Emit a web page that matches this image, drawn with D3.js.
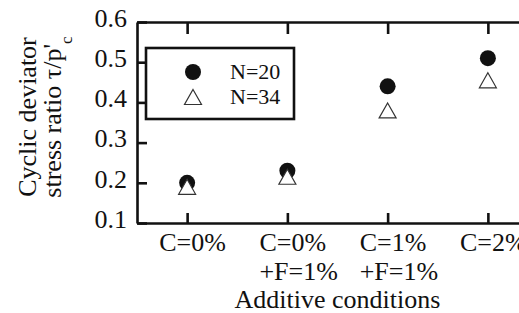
<!DOCTYPE html>
<meta charset="utf-8">
<head>
    <script src="https://cdn.jsdelivr.net/npm/d3@7"></script>
</head>
<style>
    body { margin: 0; background: #fff; }
    svg { display: block; font-family: "Liberation Serif", "Times New Roman", serif; }
</style>
<body>
<script>
    'use strict';

    const categories = ["C=0%", "C=0%+F=1%", "C=1%+F=1%", "C=2%"];
    const categoryLines = [["C=0%"], ["C=0%", "+F=1%"], ["C=1%", "+F=1%"], ["C=2%"]];
    const n20 = [0.20, 0.23, 0.44, 0.51];
    const n34 = [0.19, 0.215, 0.38, 0.455];
    const yTicks = [0.1, 0.2, 0.3, 0.4, 0.5, 0.6];

    const W = 519, H = 313;
    const plotLeft = 137, plotRight = 538, plotTop = 22, plotBottom = 223;
    const serif = "Liberation Serif";

    const svg = d3.select("body").append("svg")
        .attr("width", W).attr("height", H);

    const x = d3.scalePoint().domain(categories).range([plotLeft, plotRight]).padding(0.5);
    const y = d3.scaleLinear().domain([0.1, 0.6]).range([plotBottom, plotTop]);

    // frame / axes
    const yAxis = svg.append("g")
        .attr("transform", `translate(${plotLeft},0)`)
        .call(d3.axisLeft(y).tickValues(yTicks).tickFormat(d3.format(".1f"))
            .tickSizeInner(-10).tickSizeOuter(0).tickPadding(10));

    svg.append("g")
        .attr("transform", `translate(0,${plotBottom})`)
        .call(d3.axisBottom(x).tickSizeInner(-10).tickSizeOuter(0).tickFormat(""));

    svg.append("g")
        .attr("transform", `translate(0,${plotTop})`)
        .call(d3.axisTop(x).tickSizeInner(-12).tickSizeOuter(0).tickFormat(""));

    svg.selectAll(".domain, .tick line")
        .attr("stroke", "#111").attr("stroke-width", 2.6);

    yAxis.selectAll("text")
        .attr("fill", "#111")
        .attr("font-size", 26)
        .attr("font-family", serif)
        .attr("y", -4);

    // category labels (left-aligned blocks under each tick)
    const lab = svg.append("g");
    categoryLines.forEach((lines, i) => {
        const t = lab.append("text")
            .attr("fill", "#111")
            .attr("font-family", serif)
            .attr("font-size", 26)
            .attr("x", x(categories[i]) - 28)
            .attr("y", 251);
        lines.forEach((s, j) => {
            t.append("tspan")
                .attr("x", x(categories[i]) - 28)
                .attr("dy", j === 0 ? 0 : 29)
                .text(s);
        });
    });

    svg.append("text")
        .attr("x", (plotLeft + plotRight) / 2).attr("y", 308)
        .attr("text-anchor", "middle")
        .attr("font-family", serif)
        .attr("font-size", 26).attr("fill", "#111")
        .text("Additive conditions");

    // y title
    svg.append("text")
        .attr("transform", "translate(36,117) rotate(-90)")
        .attr("text-anchor", "middle")
        .attr("font-family", serif)
        .attr("font-size", 26).attr("fill", "#111")
        .text("Cyclic deviator");

    const t2 = svg.append("text")
        .attr("transform", "translate(61,117) rotate(-90)")
        .attr("text-anchor", "middle")
        .attr("font-family", serif)
        .attr("font-size", 26).attr("fill", "#111");
    t2.append("tspan").text("stress ratio \u03c4/p'");
    t2.append("tspan").attr("font-size", 17).attr("dy", 11).text("c");

    // markers
    const tri = "M0,-7.5L8.5,7.5L-8.5,7.5Z";

    svg.append("g").selectAll("circle")
        .data(n20)
        .join("circle")
        .attr("cx", (d, i) => x(categories[i]))
        .attr("cy", d => y(d))
        .attr("r", 8)
        .attr("fill", "#111");

    svg.append("g").selectAll("path")
        .data(n34)
        .join("path")
        .attr("transform", (d, i) => `translate(${x(categories[i])},${y(d)})`)
        .attr("d", tri)
        .attr("fill", "#fff")
        .attr("stroke", "#333")
        .attr("stroke-width", 1.2);

    // legend
    const lg = svg.append("g");
    lg.append("rect")
        .attr("x", 146).attr("y", 48).attr("width", 148).attr("height", 71)
        .attr("fill", "#fff").attr("stroke", "#111").attr("stroke-width", 2.6);
    lg.append("circle").attr("cx", 193).attr("cy", 72).attr("r", 8).attr("fill", "#111");
    lg.append("path").attr("transform", "translate(193,97)").attr("d", tri)
        .attr("fill", "#fff").attr("stroke", "#333").attr("stroke-width", 1.2);
    lg.append("text").attr("x", 230).attr("y", 79).attr("font-family", serif)
        .attr("font-size", 22).attr("fill", "#111").text("N=20");
    lg.append("text").attr("x", 230).attr("y", 104).attr("font-family", serif)
        .attr("font-size", 22).attr("fill", "#111").text("N=34");
</script>
</body>
